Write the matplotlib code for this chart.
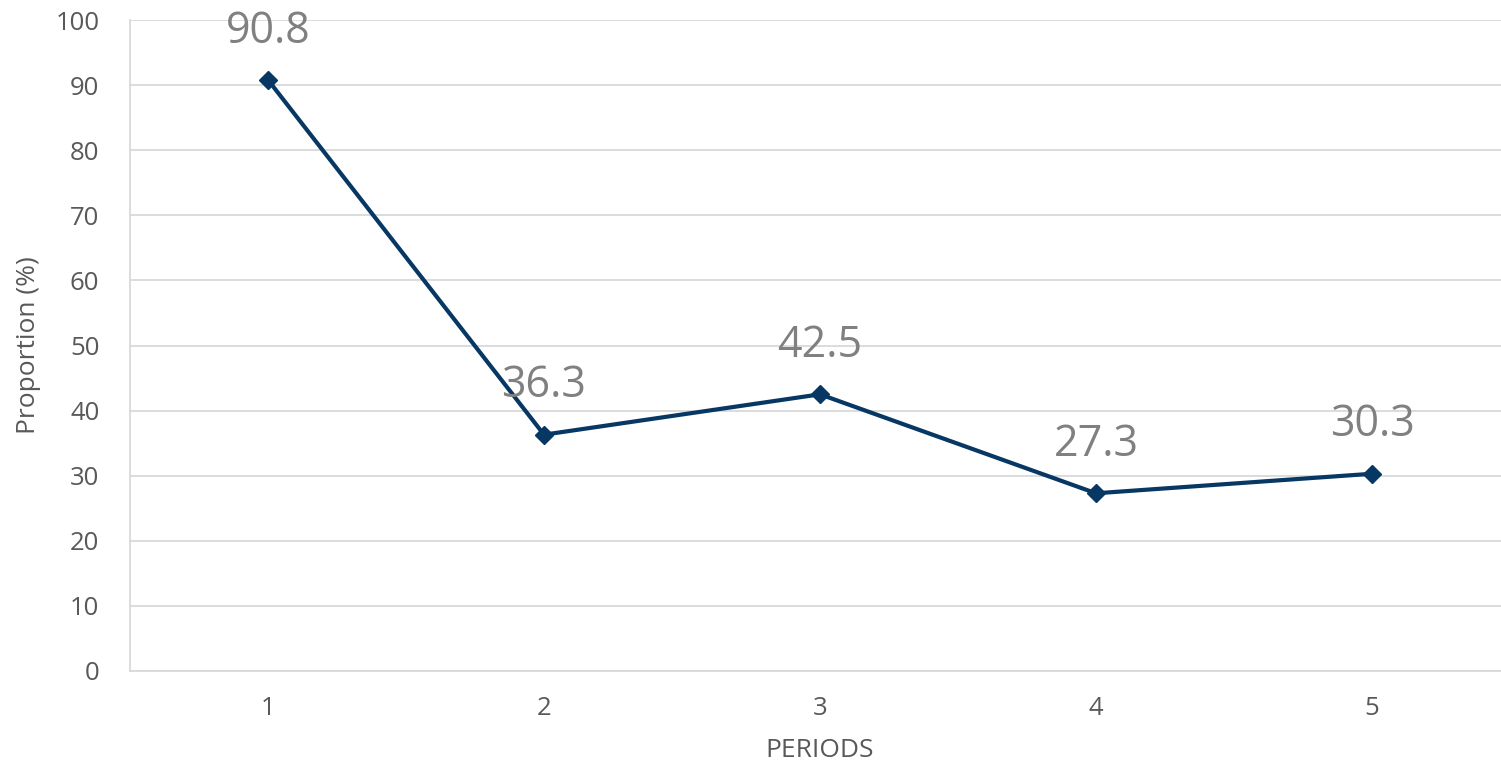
import matplotlib.pyplot as plt

periods = [1, 2, 3, 4, 5]
proportion = [90.8, 36.3, 42.5, 27.3, 30.3]
yticks = [0, 10, 20, 30, 40, 50, 60, 70, 80, 90, 100]

plt.rcParams['font.family'] = ['Open Sans', 'DejaVu Sans']

W, H = 1501, 769
fig = plt.figure(figsize=(W / 100, H / 100), dpi=100)
ax = fig.add_axes([130 / W, (H - 671) / H, (1510 - 130) / W, (671 - 20) / H])

ax.plot(periods, proportion, color='#073763', linewidth=3, marker='D',
        markersize=9, zorder=3, clip_on=False)

# etichette dei valori sopra i punti
for x, y in zip(periods, proportion):
    ax.annotate(f'{y}', (x, y), xytext=(0, 35), textcoords='offset points',
                ha='center', va='center', fontsize=31, color='#808080')

ax.set_xlim(0.5, 5.5)
ax.set_ylim(0, 100)
ax.set_xticks(periods)
ax.set_yticks(yticks)
ax.grid(axis='y', color='#d9d9d9', linewidth=1.3)
ax.set_axisbelow(True)
for s in ['top', 'right']:
    ax.spines[s].set_visible(False)
ax.spines['left'].set_color('#d9d9d9')
ax.spines['bottom'].set_color('#d9d9d9')
ax.spines['left'].set_linewidth(1.3)
ax.spines['bottom'].set_linewidth(1.3)
ax.tick_params(axis='both', length=0, colors='#595959', labelsize=18.5)
ax.tick_params(axis='y', pad=22)
ax.tick_params(axis='x', pad=18)

ax.set_xlabel('PERIODS', fontsize=19, color='#595959', labelpad=12)
ax.set_ylabel('Proportion (%)', fontsize=19, color='#595959', labelpad=10)

fig.savefig('out.png', dpi=100)
